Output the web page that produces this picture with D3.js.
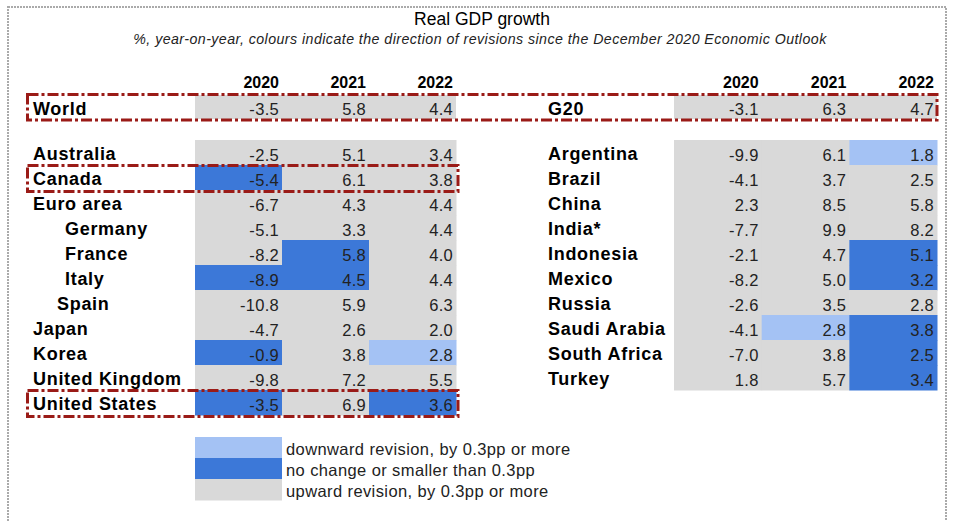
<html>
<head>
	<title>Real GDP growth</title>
	<meta charset="utf-8">
	<script src="https://d3js.org/d3.v7.min.js"></script>
	<style>
		body { margin: 0; background: #fff; }
		text { font-family: "Liberation Sans", Arial, sans-serif; fill: #000; }
	</style>
</head>
<body>
	<script type="text/javascript">
		// years and aggregates
		var years = ["2020", "2021", "2022"];
		var aggNames = ["World", "G20"];
		var agg2020 = [-3.5, -3.1];
		var agg2021 = [5.8, 6.3];
		var agg2022 = [4.4, 4.7];

		// left block (OECD)
		var leftNames = ["Australia", "Canada", "Euro area", "Germany", "France", "Italy", "Spain", "Japan", "Korea", "United Kingdom", "United States"];
		var leftIndent = [0, 0, 0, 2, 2, 2, 1, 0, 0, 0, 0];
		var left2020 = [-2.5, -5.4, -6.7, -5.1, -8.2, -8.9, -10.8, -4.7, -0.9, -9.8, -3.5];
		var left2021 = [5.1, 6.1, 4.3, 3.3, 5.8, 4.5, 5.9, 2.6, 3.8, 7.2, 6.9];
		var left2022 = [3.4, 3.8, 4.4, 4.4, 4.0, 4.4, 6.3, 2.0, 2.8, 5.5, 3.6];
		// revision: u = upward, n = no change, d = downward
		var leftRev2020 = ["u", "n", "u", "u", "u", "n", "u", "u", "n", "u", "n"];
		var leftRev2021 = ["u", "u", "u", "u", "n", "n", "u", "u", "u", "u", "u"];
		var leftRev2022 = ["u", "u", "u", "u", "u", "u", "u", "u", "d", "u", "n"];
		var leftBoxed = ["Canada", "United States"];

		// right block (other G20)
		var rightNames = ["Argentina", "Brazil", "China", "India*", "Indonesia", "Mexico", "Russia", "Saudi Arabia", "South Africa", "Turkey"];
		var right2020 = [-9.9, -4.1, 2.3, -7.7, -2.1, -8.2, -2.6, -4.1, -7.0, 1.8];
		var right2021 = [6.1, 3.7, 8.5, 9.9, 4.7, 5.0, 3.5, 2.8, 3.8, 5.7];
		var right2022 = [1.8, 2.5, 5.8, 8.2, 5.1, 3.2, 2.8, 3.8, 2.5, 3.4];
		var rightRev2020 = ["u", "u", "u", "u", "u", "u", "u", "u", "u", "u"];
		var rightRev2021 = ["u", "u", "u", "u", "u", "u", "u", "d", "u", "u"];
		var rightRev2022 = ["d", "u", "u", "u", "n", "n", "u", "n", "n", "n"];

		var legendKeys = ["d", "n", "u"];
		var legendLabels = ["downward revision, by 0.3pp or more", "no change or smaller than 0.3pp", "upward revision, by 0.3pp or more"];

		var width = 955, height = 521;
		var colour = d3.scaleOrdinal().domain(["d", "n", "u"]).range(["#a4c2f4", "#3c78d8", "#d9d9d9"]);
		var fmt = function(v) { return v.toFixed(1); };  // plain hyphen minus like the original
		var red = "#9a1b17";

		var svg = d3.select("body").append("svg")
			.attr("width", width)
			.attr("height", height);

		// dotted frame
		svg.append("rect")
			.attr("x", 8).attr("y", 7)
			.attr("width", 938).attr("height", 540)
			.attr("fill", "none")
			.attr("stroke", "#aaaaaa")
			.attr("stroke-width", 2)
			.attr("stroke-dasharray", "2,1");

		svg.append("text").text("Real GDP growth")
			.attr("x", 482).attr("y", 25)
			.attr("text-anchor", "middle")
			.style("font-size", "17.5px");
		svg.append("text").text("%, year-on-year, colours indicate the direction of revisions since the December 2020 Economic Outlook")
			.attr("x", 480).attr("y", 44)
			.attr("text-anchor", "middle")
			.style("font-size", "14.2px")
			.style("letter-spacing", "0.45px")
			.style("font-style", "italic")
			.style("fill", "#222");

		function drawBlock(cfg) {
			var x = d3.scaleBand().domain(years).range(cfg.xRange);
			var y = d3.scaleBand().domain(cfg.names).range([140, 140 + 25 * cfg.names.length]);
			var g = svg.append("g");

			// headers
			g.selectAll("text.year").data(years).enter().append("text")
				.attr("class", "year")
				.attr("x", function(d) { return x(d) + x.bandwidth() - 3; })
				.attr("y", 88)
				.attr("text-anchor", "end")
				.style("font-size", "16px")
				.style("font-weight", "bold")
				.text(function(d) { return d; });

			// aggregate row
			var aggVals = [agg2020[cfg.agg], agg2021[cfg.agg], agg2022[cfg.agg]];
			g.append("rect")
				.attr("x", x(years[0])).attr("y", 95)
				.attr("width", x.bandwidth() * 3).attr("height", 24)
				.attr("fill", colour("u"));
			g.selectAll("text.aggv").data(aggVals).enter().append("text")
				.attr("class", "aggv")
				.attr("x", function(d, i) { return x(years[i]) + x.bandwidth() - 3; })
				.attr("y", 115)
				.attr("text-anchor", "end")
				.style("font-size", "16.5px")
				.style("letter-spacing", "0.3px")
				.style("fill", "#222")
				.text(function(d) { return fmt(d); });
			g.append("text")
				.attr("x", cfg.labelX).attr("y", 115)
				.style("font-size", "18px")
				.style("font-weight", "bold")
				.style("letter-spacing", "0.7px")
				.text(aggNames[cfg.agg]);

			// cells
			var rows = cfg.names.map(function(n, i) {
				return {
					name: n,
					indent: cfg.indent ? cfg.indent[i] : 0,
					vals: [cfg.v2020[i], cfg.v2021[i], cfg.v2022[i]],
					revs: [cfg.r2020[i], cfg.r2021[i], cfg.r2022[i]]
				};
			});
			var cells = [];
			rows.forEach(function(r) {
				years.forEach(function(yr, j) {
					cells.push({ name: r.name, year: yr, v: r.vals[j], rev: r.revs[j] });
				});
			});
			g.selectAll("rect.cell").data(cells).enter().append("rect")
				.attr("class", "cell")
				.attr("x", function(d) { return x(d.year); })
				.attr("y", function(d) { return y(d.name); })
				.attr("width", x.bandwidth() + 0.5)
				.attr("height", y.bandwidth() + 0.5)
				.attr("fill", function(d) { return colour(d.rev); });
			g.selectAll("text.val").data(cells).enter().append("text")
				.attr("class", "val")
				.attr("x", function(d) { return x(d.year) + x.bandwidth() - 3; })
				.attr("y", function(d) { return y(d.name) + 21; })
				.attr("text-anchor", "end")
				.style("font-size", "16.5px")
				.style("letter-spacing", "0.3px")
				.style("fill", "#222")
				.text(function(d) { return fmt(d.v); });
			g.selectAll("text.name").data(rows).enter().append("text")
				.attr("class", "name")
				.attr("x", function(d) { return cfg.labelX + [0, 24, 32][d.indent]; })
				.attr("y", function(d) { return y(d.name) + 20; })
				.style("font-size", "18px")
				.style("font-weight", "bold")
				.style("letter-spacing", "0.7px")
				.text(function(d) { return d.name; });

			// dashed highlight boxes
			(cfg.boxed || []).forEach(function(n) {
				g.append("rect")
					.attr("x", 27.5).attr("y", y(n) + 0.5)
					.attr("width", cfg.xRange[1] + 2 - 27.5)
					.attr("height", y.bandwidth() + 1)
					.attr("fill", "none")
					.attr("stroke", red)
					.attr("stroke-width", 3)
					.attr("stroke-dasharray", "11,3,3,3");
			});
		}

		drawBlock({
			names: leftNames, indent: leftIndent, agg: 0,
			v2020: left2020, v2021: left2021, v2022: left2022,
			r2020: leftRev2020, r2021: leftRev2021, r2022: leftRev2022,
			xRange: [195, 456], labelX: 33, boxed: leftBoxed
		});
		drawBlock({
			names: rightNames, agg: 1,
			v2020: right2020, v2021: right2021, v2022: right2022,
			r2020: rightRev2020, r2021: rightRev2021, r2022: rightRev2022,
			xRange: [674, 937], labelX: 548
		});

		// box around World and G20 row
		svg.append("rect")
			.attr("x", 27.5).attr("y", 94.5)
			.attr("width", 937 - 27.5).attr("height", 25.5)
			.attr("fill", "none")
			.attr("stroke", red)
			.attr("stroke-width", 3)
			.attr("stroke-dasharray", "11,3,3,3");

		// legend
		var ly = d3.scaleBand().domain(legendKeys).range([437, 500]);
		var lg = svg.append("g");
		lg.selectAll("rect").data(legendKeys).enter().append("rect")
			.attr("x", 195).attr("y", function(d) { return ly(d); })
			.attr("width", 87).attr("height", ly.bandwidth() + 0.5)
			.attr("fill", function(d) { return colour(d); });
		lg.selectAll("text").data(legendKeys).enter().append("text")
			.attr("x", 286)
			.attr("y", function(d) { return ly(d) + 18; })
			.style("font-size", "16.5px")
			.style("letter-spacing", "0.4px")
			.style("fill", "#222")
			.text(function(d, i) { return legendLabels[i]; });
	</script>
</body>
</html>
